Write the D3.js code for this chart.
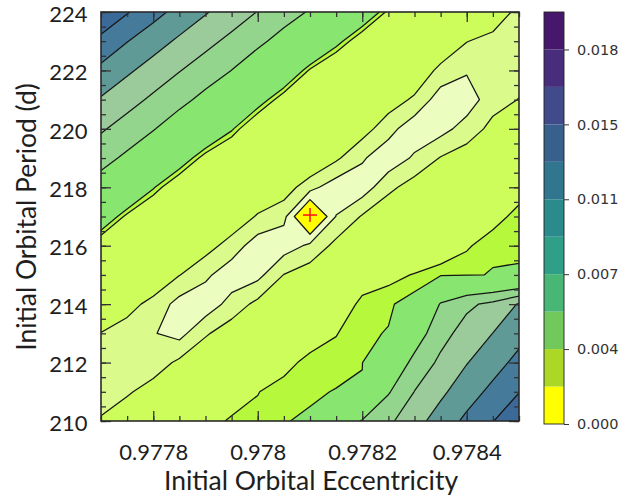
<!DOCTYPE html>
<html>
<head>
<meta charset="utf-8">
<script src="https://cdn.jsdelivr.net/npm/d3@7"></script>
<style>
  html, body { margin: 0; padding: 0; background: #ffffff; }
  svg { display: block; }
</style>
</head>
<body>
<svg id="chart" width="634" height="497"></svg>
<script>
// ---------------- DATA ----------------
// Grid columns: initial orbital eccentricity
const eccentricity = [0.97770, 0.97775, 0.97780, 0.97785, 0.97790, 0.97795, 0.97800, 0.97805, 0.97810,
                      0.97815, 0.97820, 0.97825, 0.97830, 0.97835, 0.97840, 0.97845, 0.97850];
// Grid rows: initial orbital period (d), top to bottom
const period = [224, 223, 222, 221, 220, 219, 218, 217, 216, 215, 214, 213, 212, 211, 210];
// Misfit (x 1e-3) on the grid, one row per period value
const misfit = [
  [8.80, 8.07, 7.34, 6.68, 6.08, 5.52, 4.97, 4.45, 3.91, 3.25, 2.58, 1.925, 1.49, 1.42, 1.36, 1.23, 0.90],
  [7.75, 7.03, 6.42, 5.83, 5.28, 4.75, 4.22, 3.62, 2.96, 2.30, 1.71, 1.46, 1.39, 1.33, 1.01, 0.89, 0.84],
  [6.76, 6.16, 5.59, 5.04, 4.52, 3.99, 3.33, 2.68, 1.95, 1.50, 1.43, 1.36, 1.29, 0.90, 0.715, 0.74, 0.87],
  [5.91, 5.36, 4.82, 4.29, 3.71, 3.05, 2.39, 1.78, 1.47, 1.40, 1.34, 1.18, 0.94, 0.51, 0.50, 0.87, 1.01],
  [5.12, 4.59, 4.06, 3.42, 2.76, 2.20, 1.55, 1.44, 1.42, 1.31, 1.15, 0.80, 0.47, 0.56, 0.82, 1.10, 1.30],
  [4.36, 3.80, 3.13, 2.47, 1.84, 1.48, 1.41, 1.34, 1.40, 1.06, 0.72, 0.47, 0.73, 1.02, 1.17, 1.37, 1.59],
  [3.51, 2.85, 2.19, 1.62, 1.45, 1.38, 1.31, 1.20, 0.78, 0.50, 0.50, 0.91, 1.16, 1.29, 1.44, 1.64, 1.88],
  [2.56, 1.91, 1.49, 1.42, 1.35, 1.25, 0.965, 0.75, 0.00, 0.69, 1.03, 1.28, 1.45, 1.56, 1.71, 1.90, 2.08],
  [1.69, 1.46, 1.39, 1.32, 1.14, 0.858, 0.50, 0.52, 0.74, 1.10, 1.39, 1.61, 1.73, 1.83, 1.97, 2.12, 2.12],
  [1.43, 1.36, 1.28, 1.01, 0.746, 0.48, 0.58, 1.01, 1.19, 1.40, 1.77, 1.93, 2.015, 2.10, 2.13, 2.16, 2.17],
  [1.33, 1.12, 0.895, 0.56, 0.473, 0.81, 1.09, 1.30, 1.49, 1.70, 2.10, 2.12, 2.25, 4.09, 4.80, 5.25, 6.08],
  [0.99, 0.856, 0.70, 0.565, 0.96, 1.18, 1.39, 1.59, 1.80, 1.99, 2.12, 2.16, 3.44, 4.64, 5.41, 6.01, 6.67],
  [0.84, 0.73, 0.82, 1.07, 1.27, 1.48, 1.69, 1.89, 2.10, 2.08, 2.14, 3.05, 4.29, 5.21, 5.96, 6.61, 7.29],
  [0.82, 0.955, 1.15, 1.36, 1.56, 1.77, 1.99, 2.12, 2.12, 2.16, 2.18, 3.91, 5.02, 5.80, 6.57, 7.25, 7.97],
  [1.04, 1.24, 1.45, 1.65, 1.85, 2.05, 2.07, 2.14, 2.18, 3.26, 4.07, 4.81, 5.63, 6.45, 7.21, 7.97, 8.70]
];
// Contour levels (same units as misfit) and the fill of each band
const contourLevels = [0.45, 0.68, 1.0, 2.0, 2.15, 4.0, 5.0, 6.0, 7.0, 8.0];
const bandColors = ["#ffff00", "#ebfdbf", "#dafa8c", "#cdfd5a", "#b5f83c", "#88e56f",
                    "#93d58d", "#9bcb9b", "#5f9a97", "#467a9a", "#3b6a98"];
// Best-fit marker
const bestFit = { ecc: 0.97810, period: 217.05 };
// Axis tick labels
const xTickValues = [0.9778, 0.9780, 0.9782, 0.9784];
const yTickValues = [210, 212, 214, 216, 218, 220, 222, 224];
// Colour bar
const cbLevels = [0, 0.001833, 0.003667, 0.0055, 0.007333, 0.009167, 0.011, 0.012833, 0.014667, 0.0165, 0.018333, 0.020167];
const cbColors = ["#ffff00", "#acd825", "#72c95b", "#48b674", "#2f9f88", "#2a8a8c",
                  "#2f768e", "#38608d", "#424b8a", "#482d7c", "#46176a"];
const cbTickValues = [0, 0.003667, 0.007333, 0.011, 0.014667, 0.018333];

// ---------------- LAYOUT ----------------
const svg = d3.select("#chart");
const plot = { left: 101, right: 519, top: 12, bottom: 421 };
const nx = eccentricity.length, ny = period.length;

const x = d3.scaleLinear().domain([eccentricity[0], eccentricity[nx - 1]]).range([plot.left, plot.right]);
const y = d3.scaleLinear().domain([d3.min(period), d3.max(period)]).range([plot.bottom, plot.top]);

// grid coordinate -> data value (grid value k sits at coordinate k + 0.5)
const gx = d3.scaleLinear().domain([0.5, nx - 0.5]).range([eccentricity[0], eccentricity[nx - 1]]);
const gy = d3.scaleLinear().domain([0.5, ny - 0.5]).range([period[0], period[ny - 1]]);
const proj = d3.geoTransform({
  point(px, py) { this.stream.point(x(gx(px)), y(gy(py))); }
});
const path = d3.geoPath(proj);

svg.append("defs").append("clipPath").attr("id", "plotclip")
  .append("rect")
  .attr("x", plot.left).attr("y", plot.top)
  .attr("width", plot.right - plot.left).attr("height", plot.bottom - plot.top);

const values = misfit.flat();
const thresholds = [d3.min(values)].concat(contourLevels);
const contours = d3.contours().size([nx, ny]).thresholds(thresholds)(values);

const gC = svg.append("g").attr("clip-path", "url(#plotclip)");
gC.selectAll("path.band")
  .data(contours)
  .join("path")
  .attr("class", "band")
  .attr("d", path)
  .attr("fill", (d, i) => bandColors[i])
  .attr("stroke", (d, i) => i === 0 ? "none" : "#161616")
  .attr("stroke-width", 1.25)
  .attr("stroke-linejoin", "round");

// best-fit marker
const bx = x(bestFit.ecc), by = y(bestFit.period);
const gM = svg.append("g").attr("stroke", "#ff1a1a").attr("stroke-width", 1.6);
gM.append("line").attr("x1", bx - 7).attr("x2", bx + 7).attr("y1", by).attr("y2", by);
gM.append("line").attr("x1", bx).attr("x2", bx).attr("y1", by - 7).attr("y2", by + 7);

// ---------------- AXES ----------------
const fontMain = "Lato, 'Open Sans', 'DejaVu Sans', sans-serif";
const xMinor = x.ticks(16);
const yMinor = y.ticks(28);

function styleAxis(g) {
  g.select(".domain").remove();
  g.selectAll(".tick line").attr("stroke", "#333").attr("stroke-width", 1.3);
}

// bottom
const gxB = svg.append("g").attr("transform", `translate(0,${plot.bottom})`)
  .call(d3.axisBottom(x).tickValues(xMinor).tickSize(-5).tickFormat(""));
styleAxis(gxB);
const gxB2 = svg.append("g").attr("transform", `translate(0,${plot.bottom})`)
  .call(d3.axisBottom(x).tickValues(xTickValues).tickSize(-10).tickFormat(d => String(+d.toFixed(4))));
styleAxis(gxB2);
gxB2.selectAll("text").attr("y", 39).attr("dy", null)
  .attr("font-family", fontMain).attr("font-size", 22).attr("fill", "#1e1e1e");

// top
const gxT = svg.append("g").attr("transform", `translate(0,${plot.top})`)
  .call(d3.axisTop(x).tickValues(xMinor).tickSize(-5).tickFormat(""));
styleAxis(gxT);
const gxT2 = svg.append("g").attr("transform", `translate(0,${plot.top})`)
  .call(d3.axisTop(x).tickValues(xTickValues).tickSize(-10).tickFormat(""));
styleAxis(gxT2);

// left
const gyL = svg.append("g").attr("transform", `translate(${plot.left},0)`)
  .call(d3.axisLeft(y).tickValues(yMinor).tickSize(-5).tickFormat(""));
styleAxis(gyL);
const gyL2 = svg.append("g").attr("transform", `translate(${plot.left},0)`)
  .call(d3.axisLeft(y).tickValues(yTickValues).tickSize(-10).tickFormat(d3.format("d")));
styleAxis(gyL2);
gyL2.selectAll("text").attr("x", -13.5).attr("dy", null).attr("y", 9.2)
  .attr("font-family", fontMain).attr("font-size", 22).attr("fill", "#1e1e1e");

// right
const gyR = svg.append("g").attr("transform", `translate(${plot.right},0)`)
  .call(d3.axisRight(y).tickValues(yMinor).tickSize(-5).tickFormat(""));
styleAxis(gyR);
const gyR2 = svg.append("g").attr("transform", `translate(${plot.right},0)`)
  .call(d3.axisRight(y).tickValues(yTickValues).tickSize(-10).tickFormat(""));
styleAxis(gyR2);

// frame
svg.append("rect")
  .attr("x", plot.left).attr("y", plot.top)
  .attr("width", plot.right - plot.left).attr("height", plot.bottom - plot.top)
  .attr("fill", "none").attr("stroke", "#2a2a2a").attr("stroke-width", 1.6);

// axis titles
svg.append("text")
  .attr("x", 311).attr("y", 490)
  .attr("text-anchor", "middle")
  .attr("font-family", fontMain).attr("font-size", 26.5).attr("fill", "#1e1e1e")
  .text("Initial Orbital Eccentricity");

svg.append("text")
  .attr("transform", "translate(36,217) rotate(-90)")
  .attr("text-anchor", "middle")
  .attr("font-family", fontMain).attr("font-size", 26.4).attr("fill", "#1e1e1e")
  .text("Initial Orbital Period (d)");

// ---------------- COLOUR BAR ----------------
const cb = { x: 544, w: 20, top: 12, bottom: 424 };
const cbScale = d3.scaleLinear().domain([cbLevels[0], cbLevels[cbLevels.length - 1]]).range([cb.bottom, cb.top]);
const gCb = svg.append("g");
gCb.selectAll("rect.cbband")
  .data(cbColors)
  .join("rect")
  .attr("class", "cbband")
  .attr("x", cb.x)
  .attr("width", cb.w)
  .attr("y", (d, i) => cbScale(cbLevels[i + 1]))
  .attr("height", (d, i) => cbScale(cbLevels[i]) - cbScale(cbLevels[i + 1]))
  .attr("fill", d => d);
gCb.append("rect")
  .attr("x", cb.x).attr("y", cb.top).attr("width", cb.w).attr("height", cb.bottom - cb.top)
  .attr("fill", "none").attr("stroke", "#222").attr("stroke-width", 0.9);
const gCbAxis = svg.append("g").attr("transform", `translate(${cb.x + cb.w},0)`)
  .call(d3.axisRight(cbScale).tickValues(cbTickValues).tickSize(5).tickPadding(8).tickFormat(d3.format(".3f")));
gCbAxis.select(".domain").remove();
gCbAxis.selectAll(".tick line").attr("stroke", "#333").attr("stroke-width", 1);
gCbAxis.selectAll("text")
  .attr("font-family", "'DejaVu Sans', sans-serif").attr("font-size", 14.5).attr("fill", "#333");
</script>
</body>
</html>
